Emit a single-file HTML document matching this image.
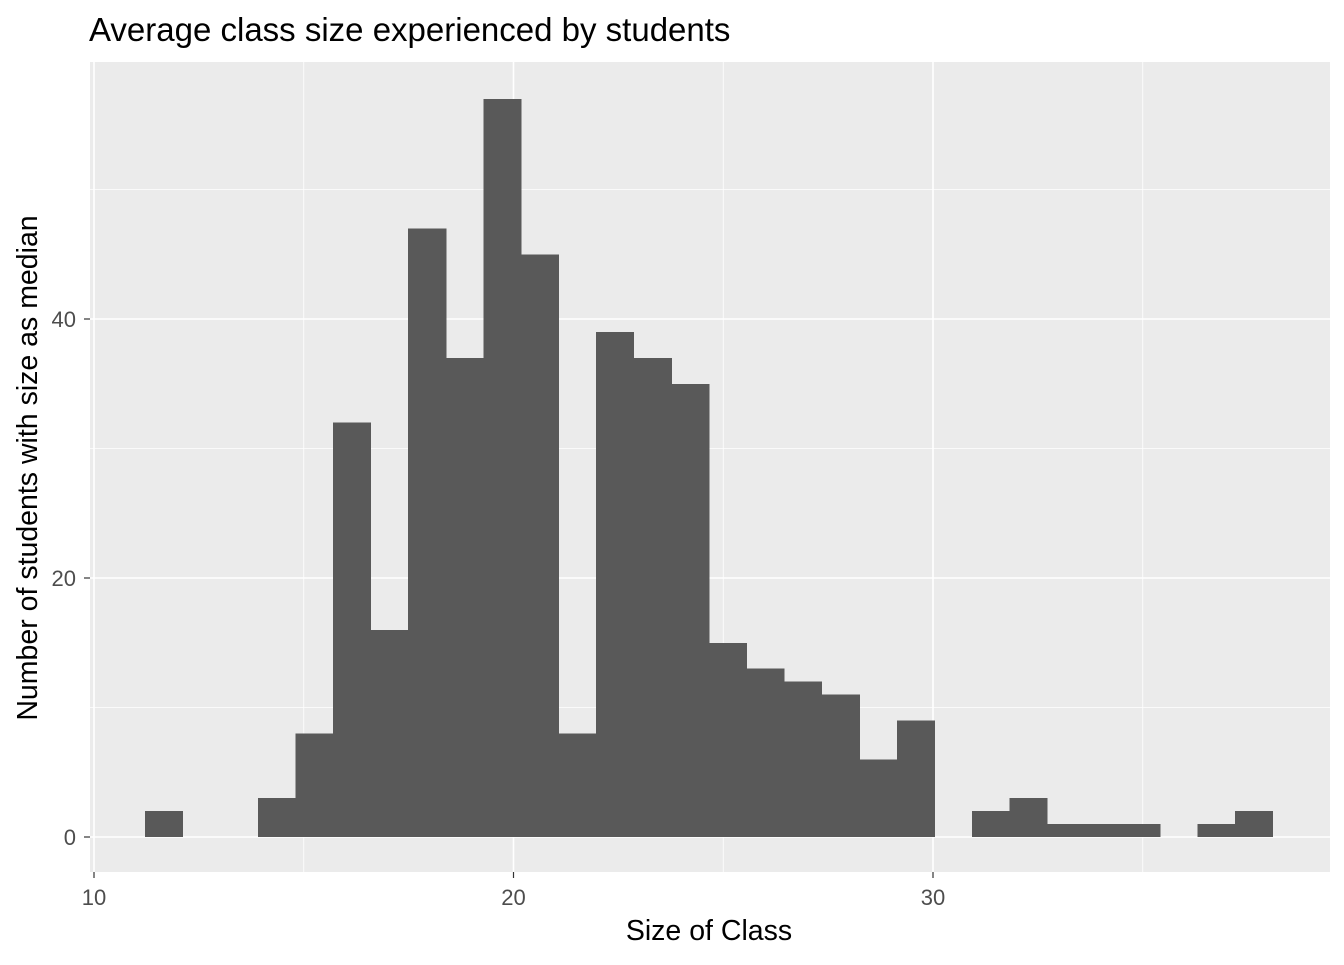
<!DOCTYPE html>
<html><head><meta charset="utf-8"><style>
body{margin:0;background:#fff;font-family:"Liberation Sans",sans-serif}
</style></head><body>
<svg id="chart" width="1344" height="960" xmlns="http://www.w3.org/2000/svg" font-family="Liberation Sans, sans-serif">
<rect width="1344" height="960" fill="#fff"/>
<text x="89" y="41" font-size="33" fill="#000">Average class size experienced by students</text>
<rect x="90" y="62" width="1240" height="810" fill="#ebebeb"/>
<g id="grid"></g><g id="bars" shape-rendering="crispEdges"></g><g id="axes"></g>
<text x="709" y="940" font-size="28.5" text-anchor="middle" fill="#000">Size of Class</text>
<text transform="translate(37,468) rotate(-90)" font-size="28.5" text-anchor="middle" fill="#000">Number of students with size as median</text>
</svg>
<script>
const counts=[2,0,0,3,8,32,16,47,37,57,45,8,39,37,35,15,13,12,11,6,9,0,2,3,1,1,1,0,1,2];
const binStart=11.216;
const binWidth=0.896;
const xTicks=[10,20,30];
const xMinor=[15,25,35];
const yTicks=[0,20,40];
const yMinor=[10,30,50];
const ns="http://www.w3.org/2000/svg";
const X=v=>94+(v-10)*41.95;
const Y=v=>837-v*12.95;
function mk(tag,attrs,parent,txt){const e=document.createElementNS(ns,tag);for(const k in attrs)e.setAttribute(k,attrs[k]);if(txt!==undefined)e.textContent=txt;document.getElementById(parent).appendChild(e);return e;}
yMinor.forEach(v=>{const e=mk('line',{x1:90,x2:1330,y1:Y(v),y2:Y(v),stroke:'#fff','stroke-width':0.8},'grid');

});
xMinor.forEach(v=>{const e=mk('line',{x1:X(v),x2:X(v),y1:62,y2:872,stroke:'#fff','stroke-width':0.8},'grid');

});
yTicks.forEach(v=>{const e=mk('line',{x1:90,x2:1330,y1:Y(v),y2:Y(v),stroke:'#fff','stroke-width':1.6},'grid');


const t=mk('text',{x:76,y:Y(v)+8,'font-size':22,'text-anchor':'end',fill:'#4d4d4d'},'axes',v);


const k=mk('line',{x1:84,x2:90,y1:Y(v),y2:Y(v),stroke:'#333','stroke-width':1.2},'axes');

});
xTicks.forEach(v=>{const e=mk('line',{x1:X(v),x2:X(v),y1:62,y2:872,stroke:'#fff','stroke-width':1.6},'grid');


const t=mk('text',{x:X(v),y:905,'font-size':22,'text-anchor':'middle',fill:'#4d4d4d'},'axes',v);


const k=mk('line',{x1:X(v),x2:X(v),y1:872,y2:878,stroke:'#333','stroke-width':1.2},'axes');

});
counts.forEach((c,i)=>{if(!c)return;const x0=X(binStart+i*binWidth),x1=X(binStart+(i+1)*binWidth);
const r=mk('rect',{x:x0,y:Y(c),width:x1-x0+0.6,height:Y(0)-Y(c),fill:'#595959'},'bars');

});
</script>
</body></html>
